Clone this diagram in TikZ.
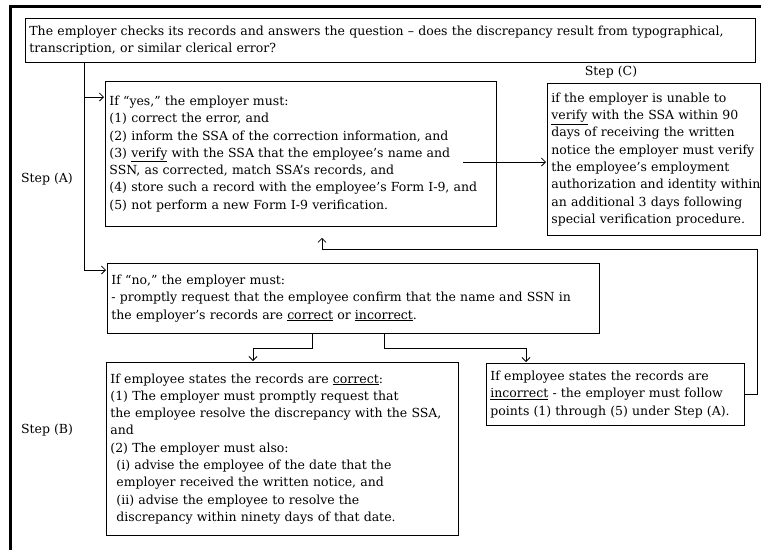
\documentclass[tikz,border=0pt]{standalone}
\usepackage{fontspec}
\setmainfont{DejaVu Serif}
\usepackage{tikz}
\usetikzlibrary{arrows.meta,calc,positioning}
\tikzstyle{box}  =[draw, rectangle, anchor=north west,
                   inner xsep=4pt, inner ysep=0pt, align=left,
                   line width=0.8pt]
\tikzstyle{link} =[-{Straight Barb[length=4pt,width=8pt]},
                   line width=0.8pt, shorten >=1pt]
\tikzstyle{frame}=[line width=3.5pt]
\tikzstyle{steplabel}=[inner sep=0pt]

\begin{document}
\begin{tikzpicture}[x=1pt,y=-1pt,
    every node/.style={font=\fontsize{12.5}{17.3}\selectfont}]
    \useasboundingbox (0,0) rectangle (761,550);
    \draw[frame] (10.5,550) -- (10.5,6.5) -- (761,6.5);

    \draw (25,18) node (question) [box, text width=722pt, minimum height=44pt]
        {The employer checks its records and answers the question – does the discrepancy result from typographical,\\
         transcription, or similar clerical error?};

    \draw (105,81) node (yes) [box, text width=383pt, minimum height=145pt]
        {If “yes,” the employer must:\\
         (1) correct the error, and\\
         (2) inform the SSA of the correction information, and\\
         (3) \underline{verify} with the SSA that the employee’s name and\\
         SSN, as corrected, match SSA’s records, and\\
         (4) store such a record with the employee’s Form I-9, and\\
         (5) not perform a new Form I-9 verification.};

    \draw (547,83) node (verifyc) [box, text width=205pt, minimum height=152pt]
        {if the employer is unable to\\
         \underline{verify} with the SSA within 90\\
         days of receiving the written\\
         notice the employer must verify\\
         the employee’s employment\\
         \mbox{authorization and identity within}\\
         an additional 3 days following\\
         special verification procedure.};

    \draw (107,263) node (no) [box, text width=484pt, minimum height=70pt]
        {If “no,” the employer must:\\
         - promptly request that the employee confirm that the name and SSN in\\
         the employer’s records are \underline{correct} or \underline{incorrect}.};

    \draw (106,362) node (correct) [box, text width=344pt, minimum height=173pt]
        {If employee states the records are \underline{correct}:\\
         (1) The employer must promptly request that\\
         \mbox{the employee resolve the discrepancy with the SSA,}\\
         and\\
         (2) The employer must also:\\
         \hspace*{6pt}(i) advise the employee of the date that the\\
         \hspace*{6pt}employer received the written notice, and\\
         \hspace*{6pt}(ii) advise the employee to resolve the\\
         \hspace*{6pt}discrepancy within ninety days of that date.};

    \draw (486,363) node (incorrect) [box, text width=250pt, minimum height=62pt]
        {If employee states the records are\\
         \underline{incorrect} - the employer must follow\\
         points (1) through (5) under Step (A).};

    % step labels
    \foreach \s/\y in {A/179,B/430}
        \draw (47,\y) node (step\s) [steplabel] {Step (\s)};
    \draw (611,72) node (stepC) [steplabel] {Step (C)};

    % connectors
    \coordinate (trunk) at ($(question.south west)+(59,0)$);
    \draw [link] (trunk) |- ($(yes.north west)+(0,16)$);
    \draw [link] (trunk) |- ($(no.north west)+(0,7)$);

    \coordinate (yesout) at ($(yes.north west)+(358,81)$);
    \draw [link] (yesout) -- (yesout -| verifyc.west);

    \draw [link] ($(no.south west)+(205,0)$) -- ++(0,15) -| ($(correct.north west)+(147,0)$);
    \draw [link] ($(no.south west)+(277,0)$) -- ++(0,15) -| ($(incorrect.north west)+(40,0)$);

    \coordinate (back) at ($(yes.south west)+(217,10)$);
    \draw [link] (incorrect.east) -- ++(13,0) |- ($(back)+(0,13)$) -- (back);

\end{tikzpicture}
\end{document}
